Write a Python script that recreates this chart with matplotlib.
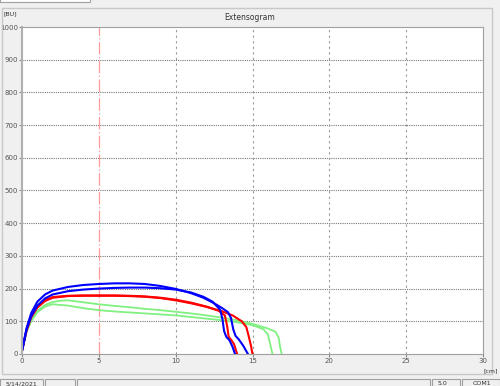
import matplotlib.pyplot as plt
from matplotlib.patches import Rectangle

# curves (cm, BU)
blue_a_x = [0, 0.3, 0.6, 1.0, 1.5, 2.0, 3, 4, 5, 6, 7, 8, 9, 10, 11, 11.8, 12.5, 13.0, 13.4, 13.6, 13.75, 13.9, 14.1, 14.4, 14.7]
blue_a_y = [10, 80, 125, 160, 182, 194, 205, 211, 214, 216, 216, 214, 208, 199, 186, 172, 155, 141, 128, 110, 75, 55, 45, 25, 0]

blue_b_x = [0, 0.3, 0.6, 1.0, 1.5, 2.0, 3, 4, 5, 6, 7, 8, 9, 10, 11, 11.8, 12.4, 12.9, 13.05, 13.15, 13.3, 13.5, 13.7, 13.86]
blue_b_y = [8, 75, 115, 148, 170, 182, 192, 197, 200, 202, 203, 203, 201, 197, 188, 175, 160, 135, 105, 70, 52, 42, 22, 0]

red_a_x = [0, 0.3, 0.6, 1.0, 1.5, 2, 3, 4, 5, 6, 7, 8, 9, 10, 11, 12, 12.8, 13.2, 13.35, 13.45, 13.6, 13.8, 14.0]
red_a_y = [10, 75, 115, 145, 165, 174, 178, 179, 179, 179, 178, 176, 172, 166, 157, 145, 132, 118, 85, 52, 44, 30, 0]

red_b_x = [0, 0.3, 0.6, 1.0, 1.5, 2, 3, 4, 5, 6, 7, 8, 9, 10, 11, 12, 13, 13.7, 14.3, 14.6, 14.75, 14.9, 15.0]
red_b_y = [10, 72, 112, 142, 162, 172, 177, 178, 178, 178, 177, 175, 171, 164, 155, 144, 131, 118, 100, 82, 55, 25, 0]

green_a_x = [0, 0.3, 0.6, 1.0, 1.5, 2, 2.5, 3, 4, 5, 6, 7, 8, 9, 10, 11, 12, 13, 14, 15, 16, 16.5, 16.7, 16.8, 16.9]
green_a_y = [8, 70, 105, 132, 150, 159, 163, 164, 158, 152, 147, 143, 138, 134, 129, 124, 118, 111, 103, 92, 78, 68, 50, 20, 0]

green_b_x = [0, 0.3, 0.6, 1.0, 1.5, 2, 3, 4, 5, 6, 7, 8, 9, 10, 11, 12, 13, 14, 15, 15.7, 16.0, 16.15, 16.3]
green_b_y = [8, 68, 100, 128, 145, 152, 148, 140, 134, 130, 127, 124, 121, 118, 113, 108, 103, 97, 88, 76, 60, 30, 0]

x_ticks = [0, 5, 10, 15, 20, 25, 30]
y_ticks = [0, 100, 200, 300, 400, 500, 600, 700, 800, 900, 1000]

fig = plt.figure(figsize=(5, 3.86), dpi=100, facecolor='#f0f0f0')

# window frame bits
fig.patches.append(Rectangle((0.004, 0.03), 0.98, 0.95, transform=fig.transFigure,
                             fill=False, edgecolor='#c8c8c8', lw=1))
fig.patches.append(Rectangle((0.0, 0.995), 0.18, 0.01, transform=fig.transFigure,
                             fill=True, facecolor='white', edgecolor='#a0a0a0', lw=0.8))
for x0, w in [(0.0, 0.086), (0.09, 0.06), (0.154, 0.705), (0.863, 0.056), (0.923, 0.077)]:
    fig.patches.append(Rectangle((x0, -0.01), w, 0.028, transform=fig.transFigure,
                                 fill=True, facecolor='#f0f0f0', edgecolor='#a0a0a0', lw=0.8))
fig.text(0.012, 0.0, '5/14/2021', fontsize=4.5, color='#333333', va='bottom')
fig.text(0.875, 0.0, '5.0', fontsize=4.5, color='#333333', va='bottom')
fig.text(0.945, 0.0, 'COM1', fontsize=4.5, color='#333333', va='bottom')

ax = fig.add_axes([0.044, 0.083, 0.922, 0.847])
ax.set_facecolor('white')

ax.plot(green_a_x, green_a_y, color='#80f080', lw=1.3)
ax.plot(green_b_x, green_b_y, color='#80f080', lw=1.3)
ax.plot(red_a_x, red_a_y, color='#ff0000', lw=1.5)
ax.plot(red_b_x, red_b_y, color='#ff0000', lw=1.5)
ax.plot(blue_a_x, blue_a_y, color='#0000ff', lw=1.5)
ax.plot(blue_b_x, blue_b_y, color='#0000ff', lw=1.5)

ax.set_xlim(0, 30)
ax.set_ylim(0, 1000)
ax.set_xticks(x_ticks)
ax.set_yticks(y_ticks)
ax.tick_params(labelsize=5, labelcolor='#555555', color='#888888', length=2, pad=1)

for yv in y_ticks[1:-1]:
    ax.axhline(yv, color='#777777', lw=0.8, ls=(0, (1, 1)), zorder=0)
for xv in x_ticks[2:-1]:
    ax.axvline(xv, color='#999999', lw=0.8, ls=(0, (2, 3)), zorder=0)
ax.axvline(5, color='#ff9a9a', lw=0.9, ls=(0, (10, 2, 1, 2)), zorder=0)

for s in ax.spines.values():
    s.set_color('#a0a0a0')
ax.spines['left'].set_color('#b0b0b0')
ax.spines['left'].set_linewidth(1.5)

fig.text(0.5, 0.955, 'Extensogram', ha='center', va='center', fontsize=5.5, color='#333333')
fig.text(0.008, 0.965, '[BU]', ha='left', va='center', fontsize=4.5, color='#333333')
fig.text(0.982, 0.04, '[cm]', ha='center', va='center', fontsize=4.5, color='#333333')

fig.savefig('out.png', dpi=100, facecolor=fig.get_facecolor())
